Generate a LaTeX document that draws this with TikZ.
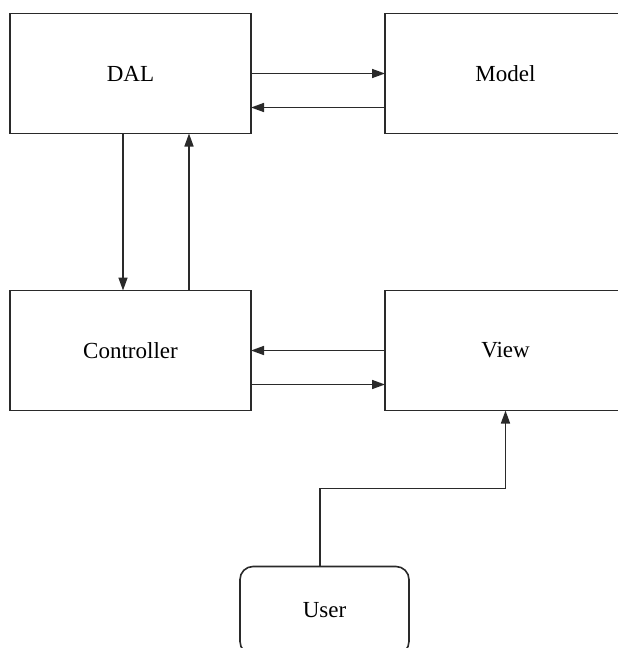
\documentclass[tikz,border=0pt]{standalone}
\usepackage{fontspec}
\setmainfont{Liberation Serif}
\newfontfamily\boxfont{Liberation Serif}
\usepackage{tikz}
\usetikzlibrary{positioning, arrows.meta}
\definecolor{linegray}{HTML}{2A2A2A}

\begin{document}
\begin{tikzpicture}[x=1pt, y=-1pt, draw=linegray, line width=1.6pt,
		block/.style={draw, rectangle, minimum width=241pt, minimum height=120pt, outer sep=0pt, font=\boxfont\fontsize{23}{27}\selectfont},
		userbox/.style={block, rounded corners=13pt, minimum width=169pt, minimum height=88pt},
		flow/.style={-{Triangle[length=13pt, width=9pt]}, color=linegray}]
		\useasboundingbox (0,0) rectangle (618,648);
		%diagram
		\node[block] at (130.5,73.5) (dal) {DAL};
		\node[block, right=134pt of dal] (model) {Model};
		\node[block, below=157pt of dal] (ctrl) {Controller};
		\node[block, right=134pt of ctrl] (view) {View};
		\node[userbox, below=156pt of ctrl, xshift=194pt] (user) {User};
		%arrows
		\draw[flow] (dal.east) -- (model.west);
		\draw[flow] ([yshift=-34pt]model.west) -- ([yshift=-34pt]dal.east);
		\draw[flow] ([xshift=-7.5pt]dal.south) -- ([xshift=-7.5pt]ctrl.north);
		\draw[flow] ([xshift=58.5pt]ctrl.north) -- ([xshift=58.5pt]dal.south);
		\draw[flow] (view.west) -- (ctrl.east);
		\draw[flow] ([yshift=-34pt]ctrl.east) -- ([yshift=-34pt]view.west);
		\draw[flow] ([xshift=-4.5pt]user.north) -- ++(0,78pt) -| (view.south);
\end{tikzpicture}
\end{document}
